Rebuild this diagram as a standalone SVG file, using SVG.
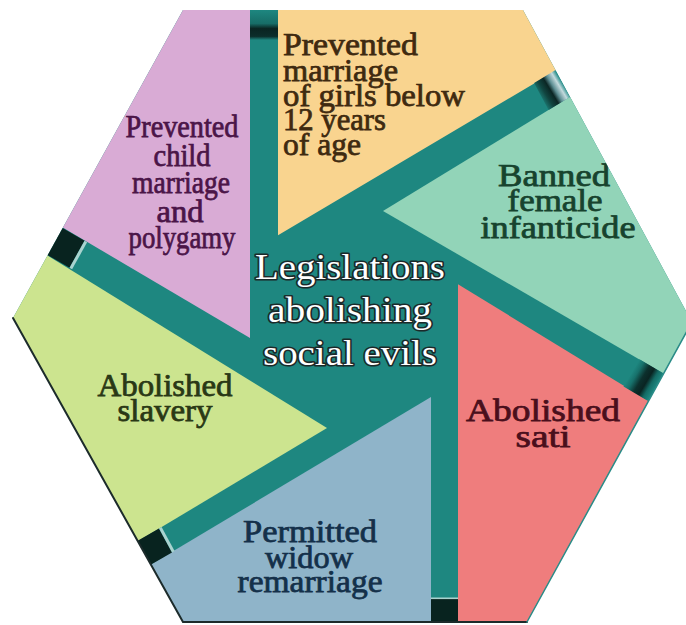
<svg xmlns="http://www.w3.org/2000/svg" width="686" height="625" viewBox="0 0 686 625">
  <defs>
    <clipPath id="hex">
      <polygon points="183,10 523,10 692,322 527,622 183,622 13,318"/>
    </clipPath>
    <linearGradient id="gTop" gradientUnits="userSpaceOnUse" x1="0" y1="10" x2="0" y2="40">
      <stop offset="0" stop-color="#1e8780"/>
      <stop offset="0.45" stop-color="#176d67"/>
      <stop offset="0.62" stop-color="#0a2421"/>
      <stop offset="0.88" stop-color="#0c2e2b"/>
      <stop offset="1" stop-color="#1e8780"/>
    </linearGradient>
    <linearGradient id="gTR" gradientUnits="userSpaceOnUse" x1="562.8" y1="83.5" x2="538.8" y2="97.9">
      <stop offset="0" stop-color="#2a8f8c"/>
      <stop offset="0.15" stop-color="#c4dadd"/>
      <stop offset="0.35" stop-color="#5d8e93"/>
      <stop offset="0.5" stop-color="#0b2624"/>
      <stop offset="0.72" stop-color="#114540"/>
      <stop offset="1" stop-color="#1e8780"/>
    </linearGradient>
    <linearGradient id="gR" gradientUnits="userSpaceOnUse" x1="655.6" y1="387.2" x2="631.5" y2="372.9">
      <stop offset="0" stop-color="#1e8780"/>
      <stop offset="0.2" stop-color="#146b65"/>
      <stop offset="0.38" stop-color="#0a2422"/>
      <stop offset="0.58" stop-color="#0c302d"/>
      <stop offset="0.82" stop-color="#17716b"/>
      <stop offset="1" stop-color="#1e8780"/>
    </linearGradient>
    <style>
      .lbl { font-family: "Liberation Serif", "Times New Roman", serif; font-size: 31px; text-anchor: middle; stroke-width: 0.75px; }
      .ctr { font-family: "Liberation Serif", "Times New Roman", serif; font-size: 36px; text-anchor: middle; fill: #ffffff; stroke: #1b2a2a; stroke-width: 3.2px; paint-order: stroke; stroke-linejoin: round; }
      .dark { fill: #08231f; }
      .hl { fill: #a9d3cf; }
    </style>
  </defs>

  <rect x="0" y="0" width="686" height="625" fill="#ffffff"/>

  <g id="hexagon-base">
    <polygon points="183,10 523,10 692,322 527,622 183,622 13,318" fill="#1e8780"/>
  </g>

  <g clip-path="url(#hex)">
    <g id="node-child-marriage">
      <polygon points="0,0 250,0 250,338 0,190.5" fill="#d9abd5"/>
      <g class="lbl" fill="#4b1548" stroke="#4b1548">
        <text x="182" y="137" textLength="113" lengthAdjust="spacingAndGlyphs">Prevented</text>
        <text x="182" y="166" textLength="57" lengthAdjust="spacingAndGlyphs">child</text>
        <text x="181" y="193" textLength="98" lengthAdjust="spacingAndGlyphs">marriage</text>
        <text x="180" y="222" textLength="47" lengthAdjust="spacingAndGlyphs">and</text>
        <text x="182" y="248" textLength="107" lengthAdjust="spacingAndGlyphs">polygamy</text>
      </g>
    </g>

    <g id="node-girls-below-12">
      <polygon points="278,0 675,0 278,235.2" fill="#f9d48f"/>
      <g class="lbl" fill="#3f2a10" stroke="#3f2a10" style="text-anchor:start">
        <text x="283" y="55" textLength="135" lengthAdjust="spacingAndGlyphs">Prevented</text>
        <text x="283" y="81" textLength="115" lengthAdjust="spacingAndGlyphs">marriage</text>
        <text x="283" y="106" textLength="182" lengthAdjust="spacingAndGlyphs">of girls below</text>
        <text x="283" y="130" textLength="103" lengthAdjust="spacingAndGlyphs">12 years</text>
        <text x="283" y="155" textLength="78" lengthAdjust="spacingAndGlyphs">of age</text>
      </g>
    </g>

    <g id="node-female-infanticide">
      <polygon points="383,211 720,5.4 720,406.1" fill="#92d4b8"/>
      <g class="lbl" fill="#17432e" stroke="#17432e">
        <text x="554" y="186" textLength="112" lengthAdjust="spacingAndGlyphs">Banned</text>
        <text x="555" y="211" textLength="95" lengthAdjust="spacingAndGlyphs">female</text>
        <text x="558" y="238" textLength="155" lengthAdjust="spacingAndGlyphs">infanticide</text>
      </g>
    </g>

    <g id="node-sati">
      <polygon points="458,284.3 720,444.6 720,640 458,640" fill="#ef7d7d"/>
      <g class="lbl" fill="#4a0f1c" stroke="#4a0f1c">
        <text x="543" y="421" textLength="154" lengthAdjust="spacingAndGlyphs">Abolished</text>
        <text x="543" y="447" textLength="55" lengthAdjust="spacingAndGlyphs">sati</text>
      </g>
    </g>

    <g id="node-widow-remarriage">
      <polygon points="431,397 431,640 60,640 60,618.9" fill="#8fb4c9"/>
      <g class="lbl" fill="#14304a" stroke="#14304a">
        <text x="310" y="542" textLength="134" lengthAdjust="spacingAndGlyphs">Permitted</text>
        <text x="309" y="568" textLength="88" lengthAdjust="spacingAndGlyphs">widow</text>
        <text x="310" y="592" textLength="145" lengthAdjust="spacingAndGlyphs">remarriage</text>
      </g>
    </g>

    <g id="node-slavery">
      <polygon points="327,428 0,226.2 0,623.9" fill="#cce48f"/>
      <g class="lbl" fill="#2a3815" stroke="#2a3815">
        <text x="165" y="396" textLength="135" lengthAdjust="spacingAndGlyphs">Abolished</text>
        <text x="165" y="421" textLength="95" lengthAdjust="spacingAndGlyphs">slavery</text>
      </g>
    </g>

    <g id="spokes">
      <rect x="250" y="10" width="28" height="30" fill="url(#gTop)"/>
      <polygon points="555.5,70 570,97 548.6,109.9 534.1,82.9" fill="url(#gTR)"/>
      <polygon points="663.6,373.6 647.6,400.8 623.5,386.5 639.5,359.3" fill="url(#gR)"/>
      <rect class="dark" x="431" y="599" width="27" height="24"/>
      <rect class="hl" x="431" y="597.5" width="27" height="1.6"/>
      <polygon class="dark" points="125,548 138,572 172,552.4 159,528.4"/>
      <polygon class="hl" points="159,528.4 172,552.4 174.6,550.9 161.6,526.9"/>
      <polygon class="dark" points="40,215 25,242 69.5,267.8 84.5,240.8"/>
      <polygon class="hl" points="84.5,240.8 69.5,267.8 72.1,269.3 87.1,242.3"/>
    </g>
  </g>

  <g id="outline" fill="none" stroke-linecap="round">
    <polyline points="13,318 183,622 527,622" stroke="#1c2b2b" stroke-width="2"/>
    <line x1="527" y1="622" x2="692" y2="322" stroke="#2b8c88" stroke-width="1.5"/>
  </g>

  <g id="node-center">
    <text class="ctr" x="350" y="279" textLength="190" lengthAdjust="spacingAndGlyphs">Legislations</text>
    <text class="ctr" x="350" y="322" textLength="164" lengthAdjust="spacingAndGlyphs">abolishing</text>
    <text class="ctr" x="350" y="365" textLength="174" lengthAdjust="spacingAndGlyphs">social evils</text>
  </g>
</svg>
